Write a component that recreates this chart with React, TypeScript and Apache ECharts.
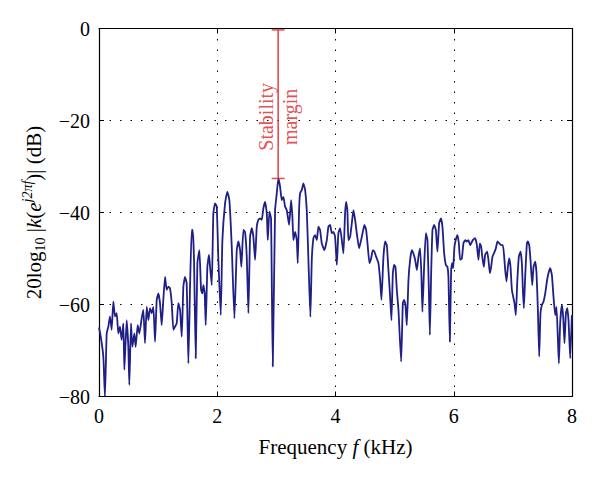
import { useEffect, useRef } from "react";
import * as echarts from "echarts";

const freqKHz = [
  0.0, 0.03, 0.073, 0.1, 0.13, 0.158, 0.186, 0.214, 0.242, 0.271, 0.299, 0.327, 0.355, 0.383, 0.412, 0.429, 0.468, 0.496, 0.513, 0.541,
  0.564, 0.598, 0.62, 0.654, 0.682, 0.722, 0.75, 0.778, 0.807, 0.835, 0.863, 0.891, 0.919, 0.948, 0.976, 1.004, 1.032, 1.06, 1.088, 1.117,
  1.145, 1.173, 1.201, 1.23, 1.258, 1.286, 1.314, 1.342, 1.371, 1.399, 1.427, 1.455, 1.483, 1.512, 1.54, 1.568, 1.585, 1.607, 1.636, 1.664,
  1.698, 1.726, 1.748, 1.765, 1.788, 1.805, 1.833, 1.861, 1.878, 1.907, 1.934, 1.963, 1.991, 2.019, 2.059, 2.087, 2.132, 2.171, 2.205, 2.245,
  2.29, 2.33, 2.357, 2.386, 2.408, 2.442, 2.47, 2.499, 2.527, 2.555, 2.584, 2.611, 2.64, 2.668, 2.695, 2.724, 2.753, 2.78, 2.809, 2.838,
  2.855, 2.882, 2.91, 2.939, 2.978, 3.007, 3.034, 3.063, 3.091, 3.118, 3.147, 3.176, 3.215, 3.249, 3.271, 3.288, 3.316, 3.345, 3.362, 3.384,
  3.401, 3.43, 3.457, 3.486, 3.514, 3.542, 3.575, 3.599, 3.626, 3.655, 3.684, 3.711, 3.739, 3.768, 3.812, 3.853, 3.88, 3.909, 3.937, 3.964,
  3.993, 4.022, 4.049, 4.078, 4.107, 4.134, 4.162, 4.179, 4.201, 4.218, 4.247, 4.276, 4.303, 4.332, 4.36, 4.399, 4.433, 4.462, 4.489, 4.518,
  4.546, 4.574, 4.602, 4.631, 4.658, 4.687, 4.726, 4.755, 4.777, 4.811, 4.839, 4.868, 4.895, 4.924, 4.946, 4.97, 4.992, 5.014, 5.037, 5.065,
  5.11, 5.139, 5.161, 5.183, 5.206, 5.234, 5.262, 5.291, 5.318, 5.347, 5.376, 5.403, 5.431, 5.454, 5.47, 5.499, 5.528, 5.555, 5.579, 5.596,
  5.618, 5.64, 5.668, 5.697, 5.724, 5.753, 5.782, 5.809, 5.838, 5.866, 5.893, 5.91, 5.934, 5.956, 5.973, 5.99, 6.012, 6.041, 6.063, 6.086,
  6.108, 6.137, 6.164, 6.193, 6.222, 6.249, 6.277, 6.323, 6.362, 6.391, 6.418, 6.441, 6.464, 6.486, 6.509, 6.531, 6.565, 6.587, 6.611, 6.633,
  6.655, 6.679, 6.712, 6.739, 6.768, 6.802, 6.831, 6.853, 6.87, 6.892, 6.916, 6.937, 6.96, 6.983, 7.005, 7.027, 7.05, 7.073, 7.101, 7.129,
  7.152, 7.169, 7.186, 7.208, 7.237, 7.254, 7.276, 7.298, 7.327, 7.349, 7.377, 7.4, 7.423, 7.445, 7.467, 7.491, 7.518, 7.547, 7.575, 7.602,
  7.631, 7.66, 7.687, 7.716, 7.738, 7.762, 7.778, 7.8, 7.829, 7.851, 7.873, 7.897, 7.919, 7.941, 7.97, 7.998,
];

const gainDB = [
  -65, -67, -71.3, -80, -66.3, -64.8, -62.6, -65.5, -59.4, -62.6, -61.9, -66.3, -64.8, -67.7, -64.1, -74.2, -63.4, -69.2, -77.5, -64.1,
  -69.2, -66.3, -69.2, -64.5, -66.3, -63, -61.2, -68.4, -60.5, -63.4, -60.8, -61.9, -60.5, -68.1, -59, -57.6, -59.7, -64.5, -59, -54,
  -56.8, -56.1, -56.5, -59.7, -65.5, -64.8, -64.1, -59.7, -61.2, -67, -56.1, -54, -55.4, -72.8, -56.1, -43.8, -43.8, -50.3, -71.7, -51,
  -48.2, -56.8, -57.6, -55.8, -57.6, -64.5, -51.8, -49.2, -51.8, -55.8, -40.2, -38, -38.7, -50.3, -62.3, -46, -38, -35.5, -37.3, -47.4,
  -63, -48.2, -46.3, -48.2, -51.8, -43.8, -44.2, -49.6, -61.9, -45.3, -43.4, -45.3, -50.3, -43.1, -41.6, -41.3, -41.6, -39.1, -37.7, -40.2,
  -46, -39.8, -41.3, -73.5, -39.5, -35.8, -32.6, -34.4, -37.3, -36.6, -38.7, -39.5, -42.7, -37.3, -40.9, -46, -44.2, -46, -51, -39.5,
  -35.8, -35.1, -33.7, -35.1, -39.5, -50.3, -62.7, -50.3, -45.6, -44.9, -46, -43.1, -43.8, -46.7, -48.2, -46, -43.1, -42.7, -44.5, -44.2,
  -45.3, -51.4, -44.5, -43.4, -46, -48.9, -40.2, -37.7, -39.5, -46, -45.3, -42.3, -39.5, -41.6, -44.5, -47.8, -46, -44.2, -42.7, -43.8,
  -47.4, -51, -50, -48.2, -48.5, -49.6, -51, -54.7, -59, -49.6, -46.3, -47.1, -52.5, -58.3, -63.4, -53.2, -51.4, -51.8, -56.8, -61.2,
  -72.4, -59.7, -59, -60.1, -64.5, -54.7, -50.3, -48.2, -48.9, -50.3, -52.5, -49.6, -47.8, -54, -61.6, -51.8, -44.5, -46, -56.8, -66.6,
  -53.2, -43.8, -42.7, -43.8, -48.5, -42.3, -41.3, -43.1, -48.9, -51.4, -51.8, -54, -68.1, -52.5, -51, -52.1, -47.4, -45.6, -44.9, -46.7,
  -50.3, -50, -46.7, -46, -46.3, -46, -47.1, -46, -45.6, -47.1, -50.3, -46.7, -47.4, -50, -51.8, -49.2, -48.5, -50.3, -53.2, -51.8,
  -49.6, -48.9, -47.8, -46.3, -46.7, -47.1, -47.1, -49.6, -52.5, -55, -51.8, -50, -51.8, -56.8, -58.3, -59.7, -62.3, -55.4, -49.6, -48.5,
  -51, -56.8, -60.8, -54, -46.7, -46.3, -47.1, -50.3, -55.8, -51.8, -50.7, -53.2, -61.2, -71.3, -61.9, -60.1, -59.4, -57.6, -55, -53.2,
  -52.1, -53.6, -58.3, -62.3, -60.5, -67.7, -72.8, -64.1, -60.1, -62.7, -68.4, -61.9, -60.8, -63.4, -71.7, -62.3,
];

const xTicks = [0, 2, 4, 6, 8];
const yTicks = [-80, -60, -40, -20, 0];
const marginFreq = [3.03, 3.03];
const marginLevels = [-0.3, -32.6];
const marginLabelFreq = [2.83, 3.23];
const marginLabelLevel = [-19.2, -19.2];
const marginLabels = ["Stability", "margin"];

const FONT = "'Liberation Serif', 'DejaVu Serif', serif";
const BLUE = "#1f1f88";
const RED = "#de2128";

export default function App() {
  const ref = useRef<HTMLDivElement>(null);

  useEffect(() => {
    if (!ref.current) return;
    const chart = echarts.init(ref.current, undefined, { renderer: "svg" });
    const minusFmt = (v: number) => String(v).replace("-", "\u2212");
    const tickLabel = {
      fontFamily: FONT,
      fontSize: 20,
      color: "#000",
    };
    const gridLine = { show: true, lineStyle: { color: "#000", width: 1, type: [1.5, 9] as any } };
    const axisLine = { show: true, onZero: false, lineStyle: { color: "#000", width: 1.2 } };
    const tick = { show: true, inside: true, length: 5, lineStyle: { color: "#000", width: 1 } };

    chart.setOption({
      animation: false,
      backgroundColor: "#fff",
      grid: { left: 99, right: 28, top: 28.5, bottom: 82.5, containLabel: false },
      xAxis: [
        {
          type: "value",
          min: xTicks[0],
          max: xTicks[xTicks.length - 1],
          interval: 2,
          position: "bottom",
          axisLine,
          axisTick: tick,
          splitLine: gridLine,
          axisLabel: { ...tickLabel, margin: 9, formatter: minusFmt },
          name: "Frequency {i|f} (kHz)",
          nameLocation: "middle",
          nameGap: 40,
          nameTextStyle: {
            fontFamily: FONT,
            fontSize: 21,
            color: "#000",
            rich: { i: { fontFamily: FONT, fontSize: 21, fontStyle: "italic", color: "#000" } },
          },
        },
        {
          type: "value",
          min: xTicks[0],
          max: xTicks[xTicks.length - 1],
          interval: 2,
          position: "top",
          axisLine,
          axisTick: tick,
          splitLine: { show: false },
          axisLabel: { show: false },
        },
      ],
      yAxis: [
        {
          type: "value",
          min: yTicks[0],
          max: yTicks[yTicks.length - 1],
          interval: 20,
          position: "left",
          axisLine,
          axisTick: tick,
          splitLine: gridLine,
          axisLabel: { ...tickLabel, margin: 9, formatter: minusFmt },
          name: "{n|20log}{sub|10}{n| |}{i|k}{n|(}{i|e}{sup|j2πf}{n|)| (dB)}",
          nameLocation: "middle",
          nameRotate: 90,
          nameGap: 50,
          nameTextStyle: {
            fontFamily: FONT,
            fontSize: 21,
            color: "#000",
            rich: {
              n: { fontFamily: FONT, fontSize: 21, lineHeight: 27, color: "#000" },
              i: { fontFamily: FONT, fontSize: 21, lineHeight: 27, fontStyle: "italic", color: "#000" },
              sub: { fontFamily: FONT, fontSize: 14, lineHeight: 27, verticalAlign: "bottom", color: "#000" },
              sup: { fontFamily: FONT, fontSize: 14, lineHeight: 27, verticalAlign: "top", fontStyle: "italic", color: "#000" },
            },
          },
        },
        {
          type: "value",
          min: yTicks[0],
          max: yTicks[yTicks.length - 1],
          interval: 20,
          position: "right",
          axisLine,
          axisTick: tick,
          splitLine: { show: false },
          axisLabel: { show: false },
        },
      ],
      series: [
        {
          type: "line",
          data: freqKHz.map((f, i) => [f, gainDB[i]]),
          symbol: "none",
          smooth: 0.15,
          lineStyle: { color: BLUE, width: 1.8 },
          clip: true,
          z: 3,
        },
        {
          type: "line",
          data: marginFreq.map((f, i) => [f, marginLevels[i]]),
          symbol: "none",
          lineStyle: { color: RED, width: 1.3 },
          z: 4,
        },
        {
          type: "scatter",
          data: marginFreq.map((f, i) => [f, marginLevels[i]]),
          symbol: "rect",
          symbolSize: [13, 1.5],
          itemStyle: { color: RED },
          z: 4,
        },
        {
          type: "scatter",
          data: marginLabelFreq.map((f, i) => [f, marginLabelLevel[i]]),
          symbolSize: 0,
          z: 5,
          label: {
            show: true,
            position: "inside",
            rotate: 90,
            formatter: (p: any) => marginLabels[p.dataIndex],
            fontFamily: FONT,
            fontSize: 20,
            color: RED,
          },
        },
      ],
    });
    return () => chart.dispose();
  }, []);

  return (
    <div
      ref={ref}
      style={{ position: "fixed", left: 0, top: 0, width: 600, height: 479, background: "#fff" }}
    />
  );
}
